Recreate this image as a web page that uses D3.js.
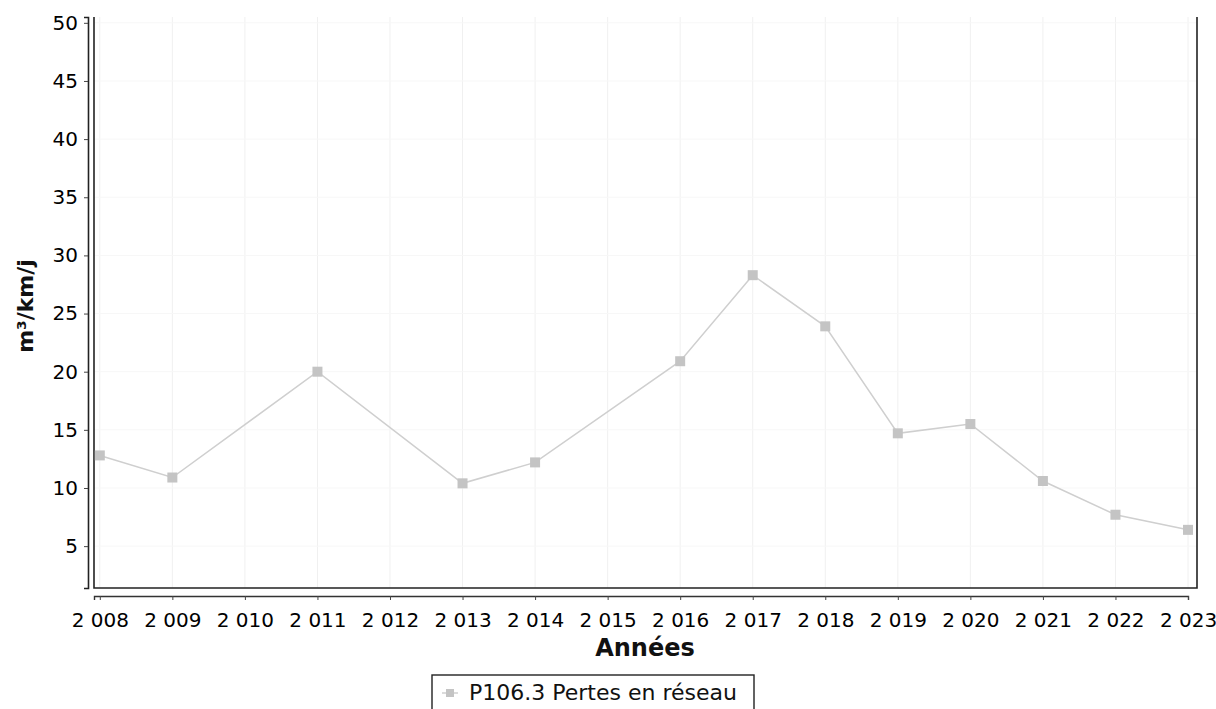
<!DOCTYPE html>
<html><head><meta charset="utf-8">
<script src="https://cdn.jsdelivr.net/npm/d3@7"></script>
<style>
html,body{margin:0;padding:0;background:#fff;}
svg{display:block;font-family:"DejaVu Sans",sans-serif;}
</style></head>
<body>
<svg id="chart" width="1216" height="709"></svg>
<script>
const years = [2008, 2009, 2011, 2013, 2014, 2016, 2017, 2018, 2019, 2020, 2021, 2022, 2023];
const values = [12.8, 10.9, 20.0, 10.4, 12.2, 20.9, 28.3, 23.9, 14.7, 15.5, 10.6, 7.7, 6.4];
const xTickYears = d3.range(2008, 2024);
const yTicks = [5, 10, 15, 20, 25, 30, 35, 40, 45, 50];
const seriesName = "P106.3 Pertes en réseau";
const xTitle = "Années";
const yTitle = "m³/km/j";

const svg = d3.select("#chart");
const L = 94, R = 1197, T = 17, B = 588;

const x = d3.scaleLinear().domain([2007.92, 2023.0]).range([L, 1188]);
const y = d3.scaleLinear().domain([1.4, 50.5]).range([B, T]);

const fmtYear = d => String(d).replace(/(\d)(\d{3})$/, "$1 $2");

// gridlines
svg.append("g").selectAll("line").data(xTickYears).join("line")
  .attr("x1", d => x(d)).attr("x2", d => x(d)).attr("y1", T).attr("y2", B)
  .attr("stroke", "#f0f0f0").attr("stroke-width", 1);
svg.append("g").selectAll("line").data(yTicks).join("line")
  .attr("x1", L).attr("x2", R).attr("y1", d => y(d)).attr("y2", d => y(d))
  .attr("stroke", "#f7f7f7").attr("stroke-width", 1);

// plot border (left, bottom, right)
svg.append("path")
  .attr("d", `M${L},${T}V${B}H${R}V${T}`)
  .attr("fill", "none").attr("stroke", "#222").attr("stroke-width", 1.6);

// y axis
const yAxis = svg.append("g").attr("transform", `translate(${L - 6},0)`)
  .call(d3.axisLeft(y).tickValues(yTicks).tickSize(4).tickPadding(6));
yAxis.select(".domain").attr("stroke", "#222").attr("stroke-width", 1.6);
yAxis.selectAll(".tick line").attr("stroke", "#444");
yAxis.selectAll("text").attr("font-size", 20).attr("fill", "#000")
  .attr("font-family", "DejaVu Sans, sans-serif");

// x axis
const xAxis = svg.append("g").attr("transform", `translate(0,${B + 8})`)
  .call(d3.axisBottom(x).tickValues(xTickYears).tickFormat(fmtYear).tickSize(4).tickPadding(13));
xAxis.select(".domain").attr("stroke", "#333").attr("stroke-width", 1.4);
xAxis.selectAll(".tick line").attr("stroke", "#444");
xAxis.selectAll("text").attr("font-size", 20).attr("fill", "#000")
  .attr("font-family", "DejaVu Sans, sans-serif");

// titles
svg.append("text").attr("x", 645).attr("y", 656).attr("text-anchor", "middle")
  .attr("font-size", 24).attr("font-weight", "bold").attr("fill", "#111").text(xTitle);
svg.append("text").attr("transform", "translate(33,306) rotate(-90)")
  .attr("text-anchor", "middle").attr("font-size", 22).attr("font-weight", "bold")
  .attr("fill", "#111").text(yTitle);

// series
const data = years.map((yr, i) => ({yr, v: values[i]}));
svg.append("path").datum(data)
  .attr("d", d3.line().x(d => x(d.yr)).y(d => y(d.v)))
  .attr("fill", "none").attr("stroke", "#cfcfcf").attr("stroke-width", 1.5);
svg.append("g").selectAll("rect").data(data).join("rect")
  .attr("x", d => x(d.yr) - 5).attr("y", d => y(d.v) - 5)
  .attr("width", 10).attr("height", 10)
  .attr("fill", "#c4c4c4");

// legend
const lg = svg.append("g").attr("transform", "translate(432,675)");
lg.append("rect").attr("x", 0).attr("y", 0).attr("width", 322).attr("height", 40)
  .attr("fill", "#fff").attr("stroke", "#222").attr("stroke-width", 1.4);
lg.append("line").attr("x1", 10).attr("x2", 26).attr("y1", 18).attr("y2", 18)
  .attr("stroke", "#cfcfcf").attr("stroke-width", 1.5);
lg.append("rect").attr("x", 14).attr("y", 14).attr("width", 8).attr("height", 8).attr("fill", "#c4c4c4");
lg.append("text").attr("x", 37).attr("y", 25).attr("font-size", 22).attr("fill", "#111").text(seriesName);
</script>
</body></html>
